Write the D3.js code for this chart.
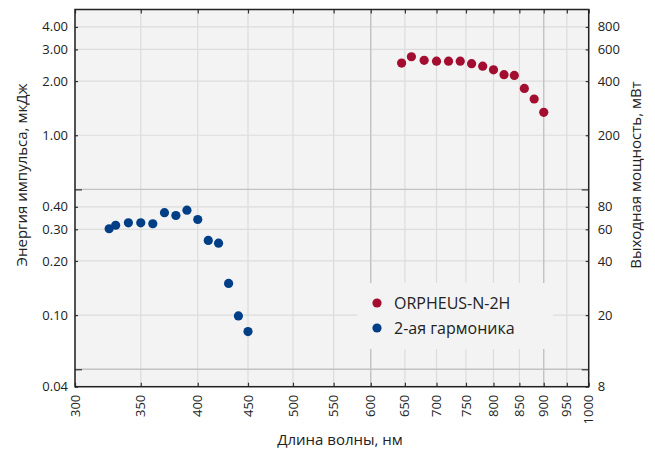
<!DOCTYPE html>
<html><head><meta charset="utf-8">
<script src="https://cdn.jsdelivr.net/npm/d3@7"></script>
<style>
body{margin:0;background:#fff;}
text{font-family:"Open Sans",sans-serif;fill:#222;}
</style></head>
<body><svg id="c" width="655" height="452"></svg>
<script>
// Data
const orpheusWl = [645,660,680,700,720,740,760,780,800,820,840,860,880,900];
const orpheusE  = [2.52,2.73,2.61,2.58,2.58,2.58,2.50,2.42,2.31,2.17,2.15,1.82,1.59,1.34];
const shgWl = [325,330,340,350,360,370,380,390,400,410,420,430,440,450];
const shgE  = [0.302,0.316,0.326,0.326,0.322,0.371,0.358,0.383,0.340,0.260,0.251,0.150,0.099,0.081];
const xTicks = [300,350,400,450,500,550,600,650,700,750,800,850,900,950,1000];
const yTicksLeft = [0.04,0.1,0.2,0.3,0.4,1,2,3,4];
const yMajorLeft = [0.05,0.5];
const yTicksRight = [8,20,40,60,80,200,400,600,800];
const yMajorRight = [10,100];
const xDark = [600,900];
const legendNames = ["ORPHEUS-N-2H","2-ая гармоника"];
const colors = ["#a30d30","#003f86"];

const svg = d3.select("#c");
const L=75, R=588.7, T=9.5, B=386.7;
const x = d3.scaleLog().domain([300,1000]).range([L,R]);
const y = d3.scaleLog().domain([0.04,5]).range([B,T]);
const y2 = d3.scaleLog().domain([8,1000]).range([B,T]);

svg.append("rect").attr("x",L).attr("y",T).attr("width",R-L).attr("height",B-T).attr("fill","#f3f3f3");

// grid
const g = svg.append("g");
g.selectAll("line.vx").data(xTicks.filter(d=>!xDark.includes(d))).join("line")
 .attr("x1",d=>x(d)).attr("x2",d=>x(d)).attr("y1",T).attr("y2",B).attr("stroke","#dcdcdc").attr("stroke-width",1.2);
g.selectAll("line.hy").data(yTicksLeft).join("line")
 .attr("y1",d=>y(d)).attr("y2",d=>y(d)).attr("x1",L).attr("x2",R).attr("stroke","#dcdcdc").attr("stroke-width",1.2);
g.selectAll("line.vd").data(xDark).join("line")
 .attr("x1",d=>x(d)).attr("x2",d=>x(d)).attr("y1",T).attr("y2",B).attr("stroke","#c2c2c2").attr("stroke-width",1.4);
g.selectAll("line.hd").data(yMajorLeft).join("line")
 .attr("y1",d=>y(d)).attr("y2",d=>y(d)).attr("x1",L).attr("x2",R).attr("stroke","#c2c2c2").attr("stroke-width",1.4);

// axes (ticks inward)
const fmt = d3.format(".2f");
svg.append("g").attr("transform",`translate(${L},0)`)
 .call(d3.axisRight(y).tickValues(yTicksLeft).tickSize(3).tickFormat(""))
 .call(a=>a.select(".domain").remove());
svg.append("g").attr("transform",`translate(${L},0)`)
 .call(d3.axisRight(y).tickValues(yMajorLeft).tickSize(7).tickFormat(""))
 .call(a=>a.select(".domain").remove());
svg.append("g").attr("transform",`translate(${R},0)`)
 .call(d3.axisLeft(y2).tickValues(yTicksRight).tickSize(3).tickFormat(""))
 .call(a=>a.select(".domain").remove());
svg.append("g").attr("transform",`translate(${R},0)`)
 .call(d3.axisLeft(y2).tickValues(yMajorRight).tickSize(7).tickFormat(""))
 .call(a=>a.select(".domain").remove());
svg.append("g").attr("transform",`translate(0,${B})`)
 .call(d3.axisTop(x).tickValues(xTicks).tickSize(4).tickFormat(""))
 .call(a=>a.select(".domain").remove());
svg.append("g").attr("transform",`translate(0,${T})`)
 .call(d3.axisBottom(x).tickValues(xTicks).tickSize(4).tickFormat(""))
 .call(a=>a.select(".domain").remove());
svg.selectAll(".tick line").attr("stroke","#333").attr("stroke-width",1.2);

// tick labels
svg.append("g").selectAll("text").data(yTicksLeft).join("text")
 .attr("x",L-7).attr("y",d=>y(d)).attr("dy","0.35em").attr("text-anchor","end")
 .attr("font-size",13).text(d=>d===0.04?"0.04":fmt(d));
svg.append("g").selectAll("text").data(yTicksRight).join("text")
 .attr("x",R+9).attr("y",d=>y2(d)).attr("dy","0.35em").attr("text-anchor","start")
 .attr("font-size",13).text(d=>d);
svg.append("g").selectAll("text").data(xTicks).join("text")
 .attr("transform",d=>`translate(${x(d)},${B+8}) rotate(-90)`).attr("dy","0.35em")
 .attr("text-anchor","end").attr("font-size",13).text(d=>d);

// border
svg.append("rect").attr("x",L).attr("y",T).attr("width",R-L).attr("height",B-T)
 .attr("fill","none").attr("stroke","#222").attr("stroke-width",1.5);

// legend box
svg.append("rect").attr("x",357).attr("y",283).attr("width",196).attr("height",66).attr("fill","#f3f3f3");

// points
svg.append("g").selectAll("circle").data(orpheusWl).join("circle")
 .attr("cx",d=>x(d)).attr("cy",(d,i)=>y(orpheusE[i])).attr("r",4.6).attr("fill",colors[0]);
svg.append("g").selectAll("circle").data(shgWl).join("circle")
 .attr("cx",d=>x(d)).attr("cy",(d,i)=>y(shgE[i])).attr("r",4.6).attr("fill",colors[1]);

// legend
const lg = svg.append("g");
legendNames.forEach((n,i)=>{
  lg.append("circle").attr("cx",377).attr("cy",303+i*25).attr("r",4.6).attr("fill",colors[i]);
  lg.append("text").attr("x",394).attr("y",303+i*25).attr("dy","0.35em").attr("font-size",16).text(n);
});

// titles
svg.append("text").attr("transform","translate(27,175) rotate(-90)").attr("text-anchor","middle")
 .attr("font-size",15).text("Энергия импульса, мкДж");
svg.append("text").attr("transform","translate(636,175) rotate(-90)").attr("text-anchor","middle")
 .attr("dy","0.35em").attr("font-size",15).text("Выходная мощность, мВт");
svg.append("text").attr("x",340).attr("y",445).attr("text-anchor","middle")
 .attr("font-size",15).text("Длина волны, нм");
</script></body></html>
